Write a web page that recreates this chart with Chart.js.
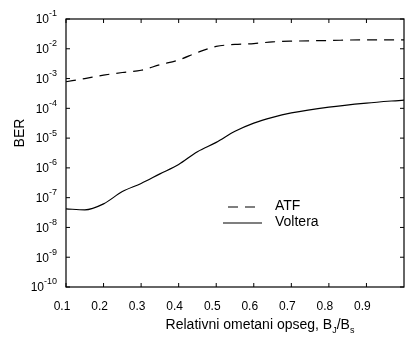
<!DOCTYPE html>
<html>
<head>
<meta charset="utf-8">
<script src="https://cdn.jsdelivr.net/npm/chart.js@4.4.1/dist/chart.umd.min.js"></script>
<style>
  html, body { margin: 0; padding: 0; background: #fff; }
  #wrap { width: 406px; height: 340px; }
</style>
</head>
<body>
<div id="wrap"><canvas id="berChart" width="406" height="340"></canvas></div>
<script>
// relativni ometani opseg Bj/Bs
const xValues = [0.1, 0.15, 0.2, 0.25, 0.3, 0.35, 0.4, 0.45, 0.5, 0.55, 0.6, 0.65, 0.7, 0.8, 0.9, 1.0];
const atfBer = [7.8e-4, 1.0e-3, 1.3e-3, 1.6e-3, 1.9e-3, 2.9e-3, 4.2e-3, 7.5e-3, 1.2e-2, 1.4e-2, 1.5e-2, 1.7e-2, 1.8e-2, 1.9e-2, 2.0e-2, 2.0e-2];
const volteraBer = [4.2e-8, 3.9e-8, 6.2e-8, 1.6e-7, 3.0e-7, 6.3e-7, 1.3e-6, 3.5e-6, 7.2e-6, 1.7e-5, 3.2e-5, 5.0e-5, 7.0e-5, 1.1e-4, 1.5e-4, 1.9e-4];
const yExponents = [-1, -2, -3, -4, -5, -6, -7, -8, -9, -10];
const xTickLabels = ["0.1", "0.2", "0.3", "0.4", "0.5", "0.6", "0.7", "0.8", "0.9"];

const FONT = "'Liberation Sans', Arial, sans-serif";

// okvir, unutrasnji tickovi, y oznake, naslovi i legenda
const decorPlugin = {
  id: "decor",
  afterDraw(chart) {
    const { ctx, chartArea: a, scales } = chart;
    const xs = scales.x, ys = scales.y;
    ctx.save();
    ctx.strokeStyle = "#000";
    ctx.lineWidth = 1.2;
    ctx.strokeRect(a.left, a.top, a.right - a.left, a.bottom - a.top);

    ctx.lineWidth = 1;
    ctx.beginPath();
    yExponents.forEach(e => {
      const y = ys.getPixelForValue(Math.pow(10, e));
      ctx.moveTo(a.left, y); ctx.lineTo(a.left + 4, y);
      ctx.moveTo(a.right, y); ctx.lineTo(a.right - 4, y);
    });
    xTickLabels.forEach(t => {
      const x = xs.getPixelForValue(parseFloat(t));
      ctx.moveTo(x, a.bottom); ctx.lineTo(x, a.bottom - 4);
      ctx.moveTo(x, a.top); ctx.lineTo(x, a.top + 4);
    });
    ctx.stroke();

    // y oznake 10^e
    ctx.fillStyle = "#000";
    yExponents.forEach(e => {
      const y = ys.getPixelForValue(Math.pow(10, e));
      const exp = "-" + Math.abs(e);
      ctx.font = "9px " + FONT;
      const ew = ctx.measureText(exp).width;
      const right = a.left - 9;
      ctx.textBaseline = "middle";
      ctx.textAlign = "left";
      ctx.fillText(exp, right - ew, y - 5);
      ctx.font = "12px " + FONT;
      ctx.textAlign = "right";
      ctx.fillText("10", right - ew, y + 1);
    });

    // BER
    ctx.save();
    ctx.translate(20, 133);
    ctx.rotate(-Math.PI / 2);
    ctx.font = "14px " + FONT;
    ctx.textAlign = "center";
    ctx.textBaseline = "middle";
    ctx.fillText("BER", 0, 0);
    ctx.restore();

    // x naslov sa indeksima
    const parts = [
      ["Relativni ometani opseg, B", 14, 0],
      ["J", 9, 4],
      ["/B", 14, 0],
      ["s", 9, 4]
    ];
    let total = 0;
    parts.forEach(p => { ctx.font = p[1] + "px " + FONT; total += ctx.measureText(p[0]).width; });
    let x = 260 - total / 2;
    ctx.textAlign = "left";
    ctx.textBaseline = "alphabetic";
    parts.forEach(p => {
      ctx.font = p[1] + "px " + FONT;
      ctx.fillText(p[0], x, 329 + p[2]);
      x += ctx.measureText(p[0]).width;
    });

    // legenda
    ctx.font = "14px " + FONT;
    ctx.textBaseline = "middle";
    ctx.lineWidth = 1.2;
    ctx.setLineDash([10, 7]);
    ctx.beginPath(); ctx.moveTo(228, 207); ctx.lineTo(262, 207); ctx.stroke();
    ctx.setLineDash([]);
    ctx.beginPath(); ctx.moveTo(223, 223); ctx.lineTo(262, 223); ctx.stroke();
    ctx.fillText("ATF", 275, 206);
    ctx.fillText("Voltera", 275, 222);
    ctx.restore();
  }
};

new Chart(document.getElementById("berChart"), {
  type: "line",
  data: {
    datasets: [
      {
        label: "ATF",
        data: xValues.map((x, i) => ({ x: x, y: atfBer[i] })),
        borderColor: "#000",
        borderWidth: 1.2,
        borderDash: [10, 7],
        pointRadius: 0,
        cubicInterpolationMode: "monotone"
      },
      {
        label: "Voltera",
        data: xValues.map((x, i) => ({ x: x, y: volteraBer[i] })),
        borderColor: "#000",
        borderWidth: 1.2,
        pointRadius: 0,
        cubicInterpolationMode: "monotone"
      }
    ]
  },
  options: {
    responsive: false,
    animation: false,
    layout: { padding: { top: 19, right: 2, left: 0, bottom: 0 } },
    plugins: {
      legend: { display: false },
      tooltip: { enabled: false }
    },
    scales: {
      x: {
        type: "linear",
        min: 0.1,
        max: 1.0,
        afterBuildTicks: s => { s.ticks = xTickLabels.map(t => ({ value: parseFloat(t) })); },
        afterFit: s => { s.height = 53; },
        ticks: {
          color: "#000",
          font: { size: 12, family: FONT },
          padding: 12,
          labelOffset: -4,
          maxRotation: 0,
          autoSkip: false,
          callback: v => v.toFixed(1)
        },
        grid: { display: false, drawTicks: false },
        border: { display: false }
      },
      y: {
        type: "logarithmic",
        min: 1e-10,
        max: 1e-1,
        afterBuildTicks: s => { s.ticks = yExponents.map(e => ({ value: Math.pow(10, e) })); },
        afterFit: s => { s.width = 66; },
        ticks: { display: false },
        grid: { display: false, drawTicks: false },
        border: { display: false }
      }
    }
  },
  plugins: [decorPlugin]
});
</script>
</body>
</html>
